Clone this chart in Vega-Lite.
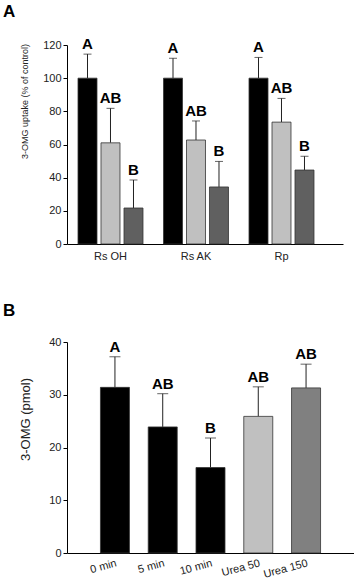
{
  "$schema": "https://vega.github.io/schema/vega-lite/v6.json",
  "padding": {"left": 3, "top": 3, "right": 0, "bottom": 0},
  "bounds": "flush",
  "config": {
    "font": "Liberation Sans",
    "view": {"stroke": null},
    "axis": {"grid": false, "domainColor": "#000", "tickColor": "#000", "labelColor": "#222", "titleColor": "#222", "labelFont": "Liberation Sans", "titleFont": "Liberation Sans", "labelOverlap": false},
    "title": {"font": "Liberation Sans", "fontSize": 17, "fontWeight": "bold", "color": "#000"}
  },
  "spacing": 98,
  "resolve": {"scale": {"color": "independent"}},
  "vconcat": [
    {
      "width": 276,
      "height": 199,
      "title": {"text": "A", "anchor": "start", "frame": "group", "offset": 16, "dx": -64},
      "data": {"values": [
        {"group": "Rs OH", "treat": "1", "value": 100, "upper": 114.5, "letter": "A"},
        {"group": "Rs OH", "treat": "2", "value": 61, "upper": 81.8, "letter": "AB"},
        {"group": "Rs OH", "treat": "3", "value": 21.7, "upper": 38.6, "letter": "B"},
        {"group": "Rs AK", "treat": "1", "value": 100, "upper": 112, "letter": "A"},
        {"group": "Rs AK", "treat": "2", "value": 62.7, "upper": 74.2, "letter": "AB"},
        {"group": "Rs AK", "treat": "3", "value": 34.4, "upper": 49.8, "letter": "B"},
        {"group": "Rp", "treat": "1", "value": 100, "upper": 112.5, "letter": "A"},
        {"group": "Rp", "treat": "2", "value": 73.5, "upper": 87.8, "letter": "AB"},
        {"group": "Rp", "treat": "3", "value": 44.6, "upper": 52.9, "letter": "B"}
      ]},
      "encoding": {
        "x": {"field": "group", "type": "nominal", "sort": ["Rs OH", "Rs AK", "Rp"],
              "scale": {"paddingInner": 0.24, "paddingOuter": 0.234, "align": 0.275},
              "axis": {"title": null, "labelAngle": 0, "ticks": false, "labelFontSize": 11, "labelPadding": 6}},
        "xOffset": {"field": "treat", "type": "nominal", "scale": {"paddingInner": 0.174, "paddingOuter": 0}}
      },
      "layer": [
        {"mark": {"type": "rule", "color": "#222", "strokeWidth": 1},
         "encoding": {
           "y": {"field": "value", "type": "quantitative", "scale": {"domain": [0, 120], "nice": false},
                 "axis": {"title": "3-OMG uptake (% of control)", "values": [0, 20, 40, 60, 80, 100, 120], "tickCount": 7, "labelOverlap": false, "tickSize": 4, "labelFontSize": 11, "labelPadding": 2, "titleFontSize": 9, "titleFontWeight": "normal", "titleX": -43, "titleY": 56, "titleAlign": "center", "titleBaseline": "middle"}},
           "y2": {"field": "upper"}}},
        {"mark": {"type": "tick", "color": "#222", "thickness": 1, "size": 8},
         "encoding": {"y": {"field": "upper", "type": "quantitative",
                 "axis": {"title": "3-OMG uptake (% of control)", "values": [0, 20, 40, 60, 80, 100, 120], "tickCount": 7, "labelOverlap": false, "tickSize": 4, "labelFontSize": 11, "labelPadding": 2, "titleFontSize": 9, "titleFontWeight": "normal", "titleX": -43, "titleY": 56, "titleAlign": "center", "titleBaseline": "middle"}}}},
        {"mark": {"type": "bar", "stroke": "#333", "strokeWidth": 0.8},
         "encoding": {
           "y": {"field": "value", "type": "quantitative",
                 "axis": {"title": "3-OMG uptake (% of control)", "values": [0, 20, 40, 60, 80, 100, 120], "tickCount": 7, "labelOverlap": false, "tickSize": 4, "labelFontSize": 11, "labelPadding": 2, "titleFontSize": 9, "titleFontWeight": "normal", "titleX": -43, "titleY": 56, "titleAlign": "center", "titleBaseline": "middle"}},
           "color": {"field": "treat", "type": "nominal", "scale": {"domain": ["1", "2", "3"], "range": ["#000000", "#c0c0c0", "#606060"]}, "legend": null}}},
        {"mark": {"type": "text", "fontWeight": "bold", "fontSize": 15, "baseline": "alphabetic", "dy": -5, "color": "#000"},
         "encoding": {"y": {"field": "upper", "type": "quantitative",
                 "axis": {"title": "3-OMG uptake (% of control)", "values": [0, 20, 40, 60, 80, 100, 120], "tickCount": 7, "labelOverlap": false, "tickSize": 4, "labelFontSize": 11, "labelPadding": 2, "titleFontSize": 9, "titleFontWeight": "normal", "titleX": -43, "titleY": 56, "titleAlign": "center", "titleBaseline": "middle"}}, "text": {"field": "letter"}}}
      ]
    },
    {
      "width": 287,
      "height": 211,
      "title": {"text": "B", "anchor": "start", "frame": "group", "offset": 16, "dx": -64},
      "data": {"values": [
        {"cond": "0 min", "value": 31.4, "upper": 37.2, "letter": "A"},
        {"cond": "5 min", "value": 23.9, "upper": 30.2, "letter": "AB"},
        {"cond": "10 min", "value": 16.2, "upper": 21.8, "letter": "B"},
        {"cond": "Urea 50", "value": 25.9, "upper": 31.5, "letter": "AB"},
        {"cond": "Urea 150", "value": 31.3, "upper": 35.8, "letter": "AB"}
      ]},
      "encoding": {
        "x": {"field": "cond", "type": "nominal", "sort": ["0 min", "5 min", "10 min", "Urea 50", "Urea 150"],
              "scale": {"paddingInner": 0.393, "paddingOuter": 0.7},
              "axis": {"title": null, "labelAngle": -15, "labelAlign": "right", "labelBaseline": "top", "labelDx": 14, "ticks": false, "labelFontSize": 11, "labelPadding": 4}}
      },
      "layer": [
        {"mark": {"type": "rule", "color": "#222", "strokeWidth": 1},
         "encoding": {
           "y": {"field": "value", "type": "quantitative", "scale": {"domain": [0, 40]},
                 "axis": {"title": "3-OMG (pmol)", "values": [0, 10, 20, 30, 40], "tickSize": 4, "labelFontSize": 11, "labelPadding": 2, "titleFontSize": 13, "titleFontWeight": "normal", "titleX": -42, "titleY": 77, "titleAlign": "center", "titleBaseline": "middle"}},
           "y2": {"field": "upper"}}},
        {"mark": {"type": "tick", "color": "#222", "thickness": 1, "size": 11},
         "encoding": {"y": {"field": "upper", "type": "quantitative"}}},
        {"mark": {"type": "bar", "stroke": "#333", "strokeWidth": 0.8},
         "encoding": {
           "y": {"field": "value", "type": "quantitative"},
           "color": {"field": "cond", "type": "nominal", "scale": {"domain": ["0 min", "5 min", "10 min", "Urea 50", "Urea 150"], "range": ["#000000", "#000000", "#000000", "#c0c0c0", "#808080"]}, "legend": null}}},
        {"mark": {"type": "text", "fontWeight": "bold", "fontSize": 15, "baseline": "alphabetic", "dy": -5, "color": "#000"},
         "encoding": {"y": {"field": "upper", "type": "quantitative"}, "text": {"field": "letter"}}}
      ]
    }
  ]
}
